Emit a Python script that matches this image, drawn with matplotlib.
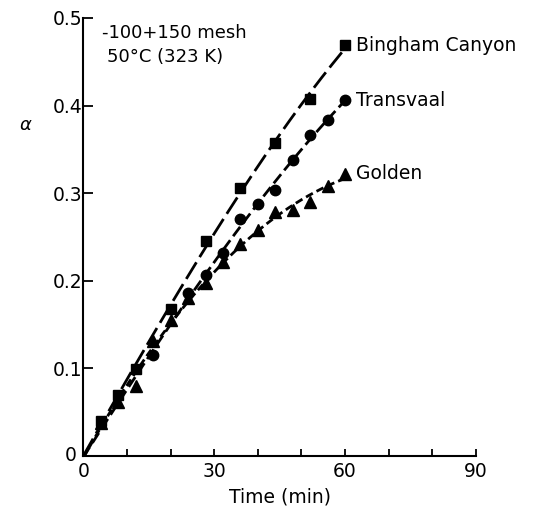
import numpy as np
import matplotlib
matplotlib.use('Agg')
import matplotlib.pyplot as plt
from matplotlib.ticker import MultipleLocator

# fraction reacted vs time for the three ores
bingham_t = [4, 8, 12, 20, 28, 36, 44, 52, 60]
bingham_a = [0.040, 0.070, 0.099, 0.168, 0.245, 0.306, 0.357, 0.408, 0.469]

transvaal_t = [16, 24, 28, 32, 36, 40, 44, 48, 52, 56, 60]
transvaal_a = [0.115, 0.186, 0.207, 0.232, 0.270, 0.288, 0.304, 0.338, 0.366, 0.383, 0.406]

golden_t = [4, 8, 12, 16, 20, 24, 28, 32, 36, 40, 44, 48, 52, 56, 60]
golden_a = [0.038, 0.062, 0.080, 0.131, 0.155, 0.180, 0.197, 0.221, 0.242, 0.258,
            0.278, 0.281, 0.290, 0.308, 0.322]

names = ['Bingham Canyon', 'Transvaal', 'Golden']
x_ticks = [0, 30, 60, 90]
y_ticks = [0.1, 0.2, 0.3, 0.4, 0.5]

plt.rcParams['font.family'] = ['DejaVu Sans']
fig = plt.figure(figsize=(5.41, 5.15), dpi=100)
ax = fig.add_axes([0.1543, 0.1146, 0.7253, 0.8505])

series = [
    (bingham_t, bingham_a, 's', 7.0, (7.0, 2.2)),
    (transvaal_t, transvaal_a, 'o', 7.5, (4.2, 1.8)),
    (golden_t, golden_a, '^', 8.5, (2.8, 1.5)),
]

for (t, a, mk, ms, dash), name in zip(series, names):
    # smooth trend line from the origin through the measured points
    tt = np.concatenate([[0], t])
    aa = np.concatenate([[0], a])
    coef = np.polyfit(tt, aa, 3)
    tf = np.linspace(0, t[-1], 200)
    ax.plot(tf, np.polyval(coef, tf), color='black', lw=2.0, dashes=dash,
            solid_capstyle='butt', dash_capstyle='butt')
    ax.plot(t, a, linestyle='none', marker=mk, ms=ms, color='black')
    ax.text(t[-1] + 2.5, a[-1], name, fontsize=13.5, va='center', ha='left')

ax.set_xlim(0, 90)
ax.set_ylim(0, 0.5)
ax.spines['top'].set_visible(False)
ax.spines['right'].set_visible(False)
ax.spines['left'].set_linewidth(1.5)
ax.spines['bottom'].set_linewidth(1.5)

ax.set_xticks(x_ticks)
ax.set_xticklabels([str(v) for v in x_ticks])
ax.xaxis.set_minor_locator(MultipleLocator(10))
ax.set_yticks(y_ticks)
ax.set_yticklabels([f'{v:.1f}' for v in y_ticks])
ax.tick_params(axis='both', which='both', direction='in', width=1.3, labelsize=13.5)
ax.tick_params(axis='x', which='both', length=5, pad=4)
ax.tick_params(axis='y', which='major', length=7, pad=1)

# lone zero at the origin for the y axis
ax.text(-1.5, 0.0, '0', fontsize=13.5, ha='right', va='center')

ax.set_xlabel('Time (min)', fontsize=13.5, labelpad=5)
fig.text(0.047, 0.757, 'α', fontsize=13, style='italic', ha='center', va='center')

ax.text(4.2, 0.483, '-100+150 mesh', fontsize=13, ha='left', va='center')
ax.text(5.5, 0.455, '50°C (323 K)', fontsize=13, ha='left', va='center')

fig.savefig('out.png', dpi=100)
